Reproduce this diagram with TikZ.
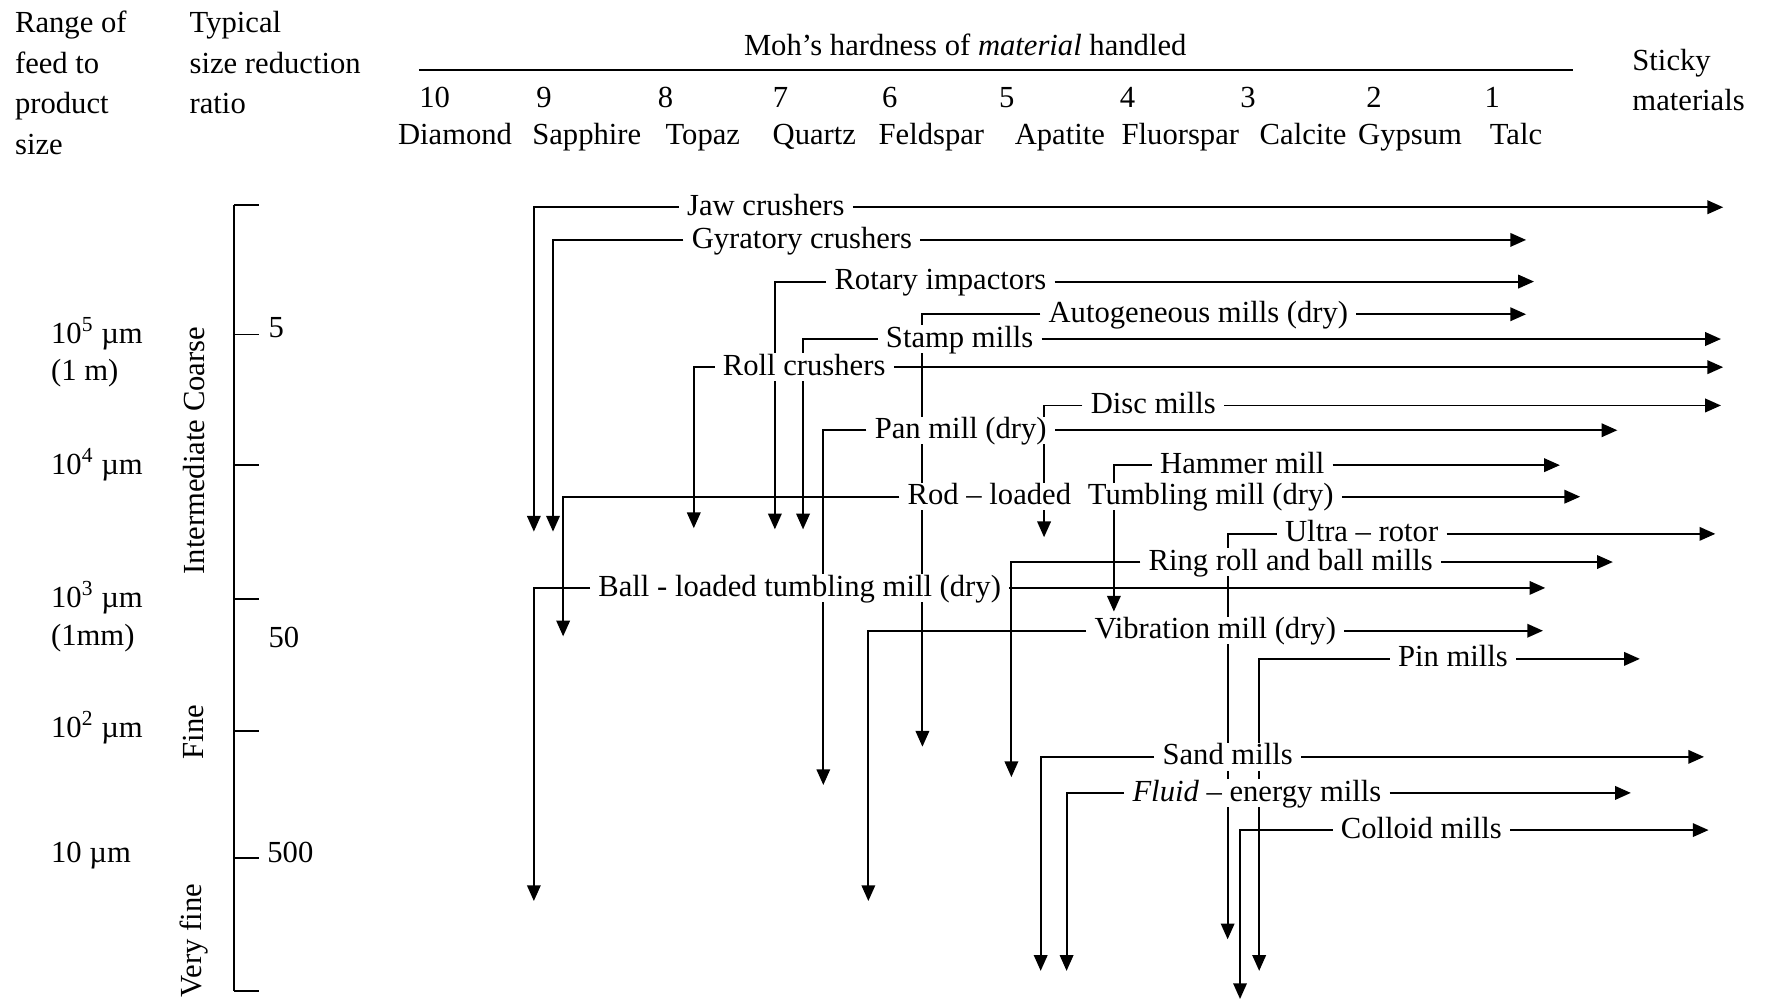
\documentclass[tikz,border=0pt]{standalone}
\usepackage{fontspec}
\setmainfont{Liberation Serif}
\usetikzlibrary{arrows.meta}
\pgfdeclarelayer{bg}
\pgfsetlayers{bg,main}
\newcommand{\millrow}[7]{%
  \node[lbl] (#1) at (#4,#2) {#7};
  \coordinate (#1c) at (#3,#2);
  \coordinate (#1r) at (#5,#2);
  \coordinate (#1d) at (#3,#6);
  \begin{pgfonlayer}{bg}
    \draw[arr] (#1.west) -- (#1c) -- (#1d);
    \draw[arr] (#1.east) -- (#1r);
  \end{pgfonlayer}}
\begin{document}
\begin{tikzpicture}[x=0.5pt,y=-0.5pt,
  font=\fontsize{13.6}{18}\selectfont,
  lbl/.style={fill=white,inner xsep=3.5pt,inner ysep=2.5pt,text height=0.72em,text depth=0pt},
  arr/.style={line width=0.85pt,-{Triangle[length=7pt,width=6pt]}},
  hd/.style={anchor=base west,inner sep=0pt},
  hc/.style={anchor=base,inner sep=0pt},
  rot/.style={rotate=90,inner sep=0pt},
  scl/.style={line width=0.75pt}]
\useasboundingbox (0,0) rectangle (1568,890);

% header
\node[hd] (r1) at (13,29) {Range of};
\node[hd] (r2) at (13,65) {feed to};
\node[hd] (r3) at (13,101) {product};
\node[hd] (r4) at (13,137) {size};
\node[hd] (t1) at (168,29) {Typical};
\node[hd] (t2) at (168,65) {size reduction};
\node[hd] (t3) at (168,101) {ratio};
\node[hc] (moh) at (857,49) {Moh's hardness of \textit{material} handled};
\coordinate (hl) at (372,62);
\coordinate (hr) at (1397,62);
\draw[line width=0.9pt] (hl) -- (hr);
\node[hd] (st1) at (1449,63) {Sticky};
\node[hd] (st2) at (1449,98) {materials};

\node[hc] (n10) at (386,95) {10};
\node[hc] (n9) at (483,95) {9};
\node[hc] (n8) at (591,95) {8};
\node[hc] (n7) at (693,95) {7};
\node[hc] (n6) at (790,95) {6};
\node[hc] (n5) at (894,95) {5};
\node[hc] (n4) at (1001,95) {4};
\node[hc] (n3) at (1108,95) {3};
\node[hc] (n2) at (1220,95) {2};
\node[hc] (n1) at (1325,95) {1};

\node[hc] (m10) at (404,128) {Diamond};
\node[hc] (m9) at (521,128) {Sapphire};
\node[hc] (m8) at (624,128) {Topaz};
\node[hc] (m7) at (723,128) {Quartz};
\node[hc] (m6) at (827,128) {Feldspar};
\node[hc] (m5) at (941,128) {Apatite};
\node[hc] (m4) at (1048,128) {Fluorspar};
\node[hc] (m3) at (1157,128) {Calcite};
\node[hc] (m2) at (1252,128) {Gypsum};
\node[hc] (m1) at (1346,128) {Talc};

% size scale
\coordinate (s0) at (208,182);
\coordinate (s6) at (208,880);
\draw[scl] (s0) -- (s6);
\foreach \yy in {182,297,413,532,649,762,880}
  \draw[scl] (208,\yy) -- (230,\yy);
\node[hd] (tk5) at (238,300) {5};
\node[hd] (tk50) at (238,575) {50};
\node[hd] (tk500) at (237,766) {500};

\node[hd] (p5) at (45,305) {10\textsuperscript{5} µm};
\node[hd] (p5b) at (45,338) {(1 m)};
\node[hd] (p4) at (45,421) {10\textsuperscript{4} µm};
\node[hd] (p3) at (45,539) {10\textsuperscript{3} µm};
\node[hd] (p3b) at (45,573) {(1mm)};
\node[hd] (p2) at (45,655) {10\textsuperscript{2} µm};
\node[hd] (p1) at (45,766) {10 µm};

\node[rot] (cls1) at (172,400) {Intermediate Coarse};
\node[rot] (cls2) at (172,650) {Fine};
\node[rot] (cls3) at (172,835) {Very fine};

% machines
\millrow{jaw}{184}{474}{680}{1530}{472}{Jaw crushers}
\millrow{gyr}{213}{491}{712}{1355}{472}{Gyratory crushers}
\millrow{rti}{250}{688}{835}{1362}{470}{Rotary impactors}
\millrow{aut}{279}{819}{1064}{1355}{663}{Autogeneous mills (dry)}
\millrow{stm}{301}{713}{852}{1528}{470}{Stamp mills}
\millrow{rol}{326}{616}{714}{1530}{469}{Roll crushers}
\millrow{dsc}{360}{927}{1024}{1528}{477}{Disc mills}
\millrow{pan}{382}{731}{853}{1436}{697}{Pan mill (dry)}
\millrow{ham}{413}{989}{1103}{1385}{543}{Hammer mill}
\millrow{rod}{441}{500}{995}{1403}{565}{Rod – loaded\hspace{0.55em}Tumbling mill (dry)}
\millrow{ult}{474}{1090}{1209}{1523}{834}{Ultra – rotor}
\millrow{rng}{499}{898}{1146}{1432}{690}{Ring roll and ball mills}
\millrow{bal}{522}{474}{710}{1372}{800}{Ball - loaded tumbling mill (dry)}
\millrow{vib}{560}{771}{1079}{1370}{800}{Vibration mill (dry)}
\millrow{pin}{585}{1118}{1290}{1456}{862}{Pin mills}
\millrow{snd}{672}{924}{1090}{1513}{862}{Sand mills}
\millrow{fld}{704}{947}{1116}{1448}{862}{\textit{Fluid} – energy mills}
\millrow{col}{737}{1101}{1262}{1517}{887}{Colloid mills}
\end{tikzpicture}
\end{document}
